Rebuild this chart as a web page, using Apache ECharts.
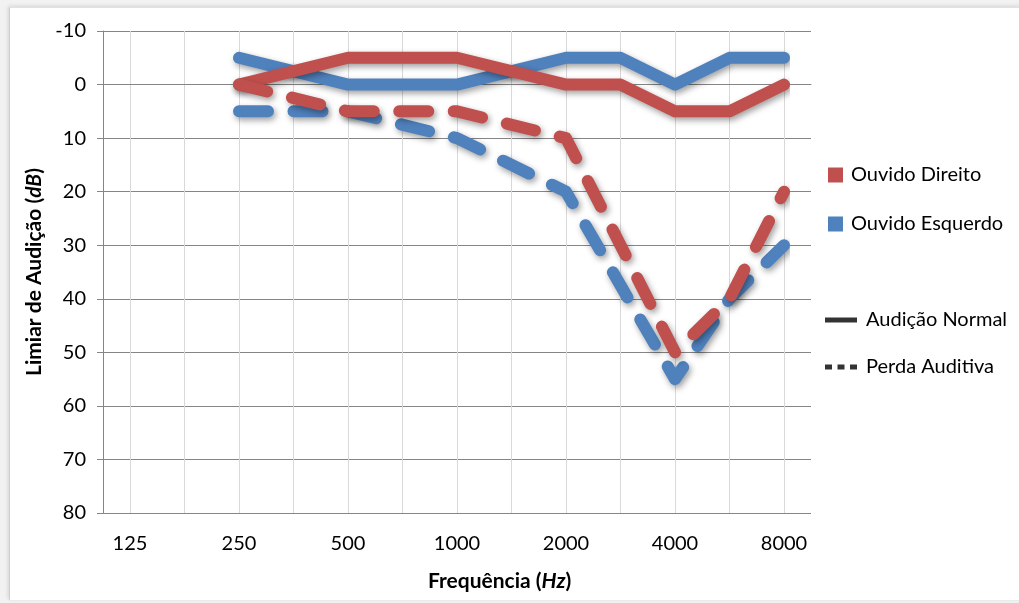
<!DOCTYPE html>
<html>
<head>
<meta charset="utf-8">
<script src="https://cdn.jsdelivr.net/npm/echarts@6/dist/echarts.min.js"></script>
<style>
  html, body { margin: 0; padding: 0; background: #f2f2f2; }
  #wrap { position: relative; width: 1019px; height: 603px; overflow: hidden; background: #f2f2f2; }
  #panel { position: absolute; left: 9px; top: 7px; width: 1012px; height: 592px; background: #ffffff;
           border-left: 1px solid #cfcfcf; border-top: 1px solid #e2e2e2; box-shadow: -1px -1px 4px rgba(0,0,0,0.12); }
  #chart { position: absolute; left: 0; top: 0; width: 1019px; height: 603px; }
</style>
</head>
<body>
<div id="wrap"><div id="panel"></div><div id="chart"></div></div>
<script>
// Frequency categories (Hz); only octave frequencies carry a tick label
const categories = ['125','180','250','375','500','750','1000','1500','2000','3000','4000','6000','8000'];
const tickLabels = ['125','','250','','500','','1000','','2000','','4000','','8000'];
const yTicks = { min: -10, max: 80, step: 10 };

// Hearing thresholds (dB), null = no measurement at that frequency
const direitoNormal  = [null, null,  0, null, -5, null, -5, null,  0,    0,  5,  5,  0];
const esquerdoNormal = [null, null, -5, null,  0, null,  0, null, -5,   -5,  0, -5, -5];
const direitoPerda   = [null, null,  0, null,  5, null,  5, null, 10,   30, 50, 40, 20];
const esquerdoPerda  = [null, null,  5, null,  5, null, 10, null, 20, 37.5, 55, 40, 30];

const RED = '#C0504D';
const BLUE = '#4F81BD';
const FONT = 'Lato, "Open Sans", sans-serif';
const FS = 20;

const shadow = { shadowColor: 'rgba(0,0,0,0.38)', shadowBlur: 6, shadowOffsetX: 2, shadowOffsetY: 3 };

function lineSeries(name, data, color, dashed) {
  return {
    name: name,
    type: 'line',
    xAxisIndex: 1,
    yAxisIndex: 1,
    data: data,
    connectNulls: true,
    symbol: 'none',
    color: color,
    lineStyle: Object.assign({
      color: color,
      width: 12,
      type: dashed ? [29, 25.5] : 'solid',
      cap: 'round',
      join: 'round'
    }, shadow),
    emphasis: { disabled: true },
    silent: true
  };
}

const chart = echarts.init(document.getElementById('chart'), null, { renderer: 'canvas' });

const option = {
  animation: false,
  backgroundColor: 'transparent',
  textStyle: { fontFamily: FONT },
  grid: [
    { left: 103, right: 208, top: 31, bottom: 90 },
    { left: 130, right: 235, top: 31, bottom: 90 }
  ],
  xAxis: [
    {
      type: 'value', gridIndex: 0, min: 0, max: 1,
      axisLine: { show: true, lineStyle: { color: '#868686', width: 1 } },
      axisTick: { show: false }, axisLabel: { show: false }, splitLine: { show: false }
    },
    {
      type: 'category', gridIndex: 1, data: categories, boundaryGap: false,
      axisLine: { show: false }, axisTick: { show: false },
      axisLabel: {
        interval: 0, margin: 21, fontSize: FS, color: '#000', fontFamily: FONT,
        formatter: function (v, i) { return tickLabels[i]; }
      },
      splitLine: { show: true, interval: 0, lineStyle: { color: '#d9d9d9', width: 1 } }
    }
  ],
  yAxis: [
    {
      type: 'value', gridIndex: 0, inverse: true,
      min: yTicks.min, max: yTicks.max, interval: yTicks.step,
      axisLine: { show: true, lineStyle: { color: '#868686', width: 1 } },
      axisTick: { show: true, length: 6, lineStyle: { color: '#868686' } },
      axisLabel: { margin: 17, fontSize: FS, color: '#000', fontFamily: FONT },
      splitLine: { show: true, lineStyle: { color: '#868686', width: 1 } },
      name: '{b|Limiar de Audição (}{i|dB}{b|)}',
      nameLocation: 'middle', nameRotate: 90, nameGap: 52,
      nameTextStyle: {
        rich: {
          b: { fontSize: 21, fontWeight: 'bold', color: '#000', fontFamily: FONT },
          i: { fontSize: 21, fontWeight: 'bold', fontStyle: 'italic', color: '#000', fontFamily: FONT }
        }
      }
    },
    {
      type: 'value', gridIndex: 1, inverse: true,
      min: yTicks.min, max: yTicks.max, interval: yTicks.step, show: false,
      splitLine: { show: false }
    }
  ],
  legend: [
    {
      orient: 'vertical', left: 828, top: 165, padding: 0,
      itemWidth: 15, itemHeight: 15, itemGap: 29,
      textStyle: { fontSize: FS, lineHeight: 20, color: '#000', fontFamily: FONT, padding: [0, 0, 0, 3] },
      selectedMode: false,
      data: [
        { name: 'Ouvido Direito', icon: 'rect', itemStyle: { color: RED, borderWidth: 0 } },
        { name: 'Ouvido Esquerdo', icon: 'rect', itemStyle: { color: BLUE, borderWidth: 0 } }
      ]
    },
    {
      orient: 'vertical', left: 825, top: 310, padding: 0,
      itemWidth: 32, itemHeight: 5, itemGap: 27,
      textStyle: { fontSize: FS, lineHeight: 20, color: '#000', fontFamily: FONT, padding: [0, 0, 0, 4] },
      selectedMode: false,
      data: [
        { name: 'Audição Normal', icon: 'path://M0,0H32V5H0Z', itemStyle: { color: '#000', borderWidth: 0 } },
        { name: 'Perda Auditiva', icon: 'path://M0,0H7V5H0Z M12.5,0H19.5V5H12.5Z M25,0H32V5H25Z', itemStyle: { color: '#000', borderWidth: 0 } }
      ]
    }
  ],
  graphic: [
    {
      type: 'text',
      left: 428, top: 571,
      style: {
        text: '{b|Frequência (}{i|Hz}{b|)}',
        rich: {
          b: { fontSize: 21, fontWeight: 'bold', fill: '#000', fontFamily: FONT },
          i: { fontSize: 21, fontWeight: 'bold', fontStyle: 'italic', fill: '#000', fontFamily: FONT }
        }
      }
    }
  ],
  series: [
    lineSeries('Ouvido Esquerdo', esquerdoNormal, BLUE, false),
    lineSeries('Ouvido Esquerdo', esquerdoPerda, BLUE, true),
    lineSeries('Ouvido Direito', direitoNormal, RED, false),
    lineSeries('Ouvido Direito', direitoPerda, RED, true),
    { name: 'Audição Normal', type: 'scatter', xAxisIndex: 0, yAxisIndex: 0, data: [], color: '#000' },
    { name: 'Perda Auditiva', type: 'scatter', xAxisIndex: 0, yAxisIndex: 0, data: [], color: '#000' }
  ]
};

chart.setOption(option);
</script>
</body>
</html>
